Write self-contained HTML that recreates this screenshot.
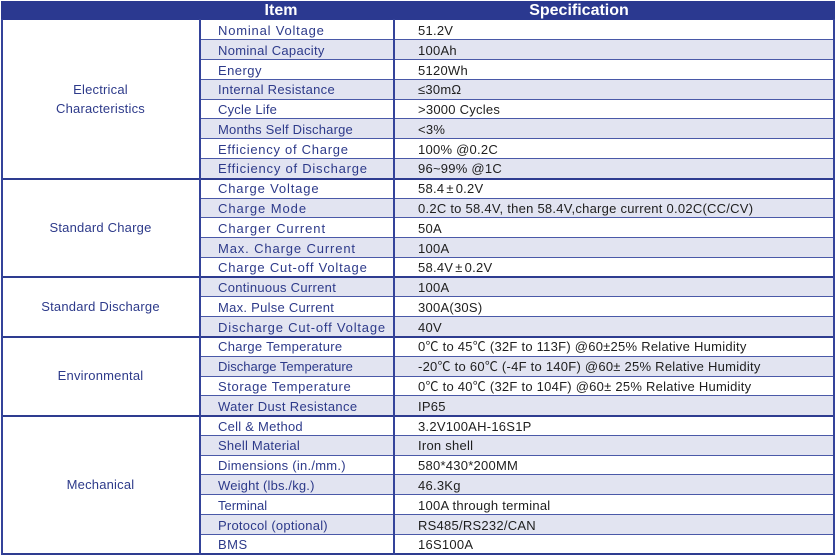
<!DOCTYPE html>
<html>
<head>
<meta charset="utf-8">
<style>
html,body{margin:0;padding:0;background:#fff;}
body{width:836px;height:555px;position:relative;overflow:hidden;font-family:"Liberation Sans","Noto Sans CJK SC",Arial,sans-serif;}
.hdr{position:absolute;left:1px;top:1px;width:834px;height:19px;background:#2b3990;}
.ht{position:absolute;top:0;width:200px;text-align:center;color:#fff;font-weight:bold;font-size:16px;line-height:19px;}
.row{position:absolute;left:200px;width:635px;height:19.78px;}
.sh{background:#e2e4f1;}
.m{position:absolute;left:18px;top:0;line-height:20px;font-size:13px;color:#2d3a8a;white-space:nowrap;padding-top:1px;}
.v{position:absolute;left:218px;top:0;line-height:20px;font-size:13px;color:#1e1e1e;white-space:nowrap;letter-spacing:0.25px;padding-top:1px;}
.hl{position:absolute;left:200px;width:635px;height:1px;background:#4a59a8;}
.sl{position:absolute;left:1px;width:834px;height:2px;background:#2e3c90;}
.vl{position:absolute;top:19px;width:2px;background:#34439a;}
.lab{position:absolute;left:1px;width:199px;display:flex;align-items:center;justify-content:center;text-align:center;font-size:13px;color:#2d3a8a;line-height:19px;letter-spacing:0.2px;}
.cj{font-family:"Noto Sans CJK SC",sans-serif;}
</style>
</head>
<body>
<div class="hdr">
  <div class="ht" style="left:180px;">Item</div>
  <div class="ht" style="left:478px;">Specification</div>
</div>

<!-- rows -->
<div class="row" style="top:20px"><span class="m" style="letter-spacing:0.8px">Nominal Voltage</span><span class="v">51.2V</span></div>
<div class="row sh" style="top:39.78px"><span class="m" style="letter-spacing:0.3px">Nominal Capacity</span><span class="v">100Ah</span></div>
<div class="row" style="top:59.56px"><span class="m" style="letter-spacing:0.45px">Energy</span><span class="v">5120Wh</span></div>
<div class="row sh" style="top:79.34px"><span class="m" style="letter-spacing:0.3px">Internal Resistance</span><span class="v">≤30mΩ</span></div>
<div class="row" style="top:99.12px"><span class="m" style="letter-spacing:0.2px">Cycle Life</span><span class="v">&gt;3000 Cycles</span></div>
<div class="row sh" style="top:118.9px"><span class="m" style="letter-spacing:0.2px">Months Self Discharge</span><span class="v">&lt;3%</span></div>
<div class="row" style="top:138.68px"><span class="m" style="letter-spacing:0.73px">Efficiency of Charge</span><span class="v">100% @0.2C</span></div>
<div class="row sh" style="top:158.46px"><span class="m" style="letter-spacing:0.77px">Efficiency of Discharge</span><span class="v">96~99% @1C</span></div>
<div class="row" style="top:178.24px"><span class="m" style="letter-spacing:0.84px">Charge Voltage</span><span class="v">58.4<span style="margin:0 2px">±</span>0.2V</span></div>
<div class="row sh" style="top:198.02px"><span class="m" style="letter-spacing:0.93px">Charge Mode</span><span class="v">0.2C to 58.4V, then 58.4V,charge current 0.02C(CC/CV)</span></div>
<div class="row" style="top:217.8px"><span class="m" style="letter-spacing:0.94px">Charger Current</span><span class="v">50A</span></div>
<div class="row sh" style="top:237.58px"><span class="m" style="letter-spacing:0.87px">Max. Charge Current</span><span class="v">100A</span></div>
<div class="row" style="top:257.36px"><span class="m" style="letter-spacing:0.8px">Charge Cut-off Voltage</span><span class="v">58.4V<span style="margin:0 2px">±</span>0.2V</span></div>
<div class="row sh" style="top:277.14px"><span class="m" style="letter-spacing:0.3px">Continuous Current</span><span class="v">100A</span></div>
<div class="row" style="top:296.92px"><span class="m" style="letter-spacing:0.27px">Max. Pulse Current</span><span class="v">300A(30S)</span></div>
<div class="row sh" style="top:316.7px"><span class="m" style="letter-spacing:0.8px">Discharge Cut-off Voltage</span><span class="v">40V</span></div>
<div class="row" style="top:336.48px"><span class="m" style="letter-spacing:0.3px">Charge Temperature</span><span class="v">0℃ to 45℃ (32F to 113F) @60±25% Relative Humidity</span></div>
<div class="row sh" style="top:356.26px"><span class="m" style="letter-spacing:0px">Discharge Temperature</span><span class="v">-20℃ to 60℃ (-4F to 140F) @60± 25% Relative Humidity</span></div>
<div class="row" style="top:376.04px"><span class="m" style="letter-spacing:0.6px">Storage Temperature</span><span class="v">0℃ to 40℃ (32F to 104F) @60± 25% Relative Humidity</span></div>
<div class="row sh" style="top:395.82px"><span class="m" style="letter-spacing:0.33px">Water Dust Resistance</span><span class="v">IP65</span></div>
<div class="row" style="top:415.6px"><span class="m" style="letter-spacing:0.25px">Cell &amp; Method</span><span class="v">3.2V100AH-16S1P</span></div>
<div class="row sh" style="top:435.38px"><span class="m" style="letter-spacing:0.23px">Shell Material</span><span class="v">Iron shell</span></div>
<div class="row" style="top:455.16px"><span class="m" style="letter-spacing:0.25px">Dimensions (in./mm.)</span><span class="v">580*430*200MM</span></div>
<div class="row sh" style="top:474.94px"><span class="m" style="letter-spacing:0.17px">Weight (lbs./kg.)</span><span class="v">46.3Kg</span></div>
<div class="row" style="top:494.72px"><span class="m" style="letter-spacing:0px">Terminal</span><span class="v">100A through terminal</span></div>
<div class="row sh" style="top:514.5px"><span class="m" style="letter-spacing:0.23px">Protocol (optional)</span><span class="v">RS485/RS232/CAN</span></div>
<div class="row" style="top:534.28px"><span class="m" style="letter-spacing:0.5px">BMS</span><span class="v">16S100A</span></div>

<!-- left labels -->
<div class="lab" style="top:20px;height:158px;">Electrical<br>Characteristics</div>
<div class="lab" style="top:178px;height:99px;">Standard Charge</div>
<div class="lab" style="top:277px;height:59px;">Standard Discharge</div>
<div class="lab" style="top:336px;height:79px;">Environmental</div>
<div class="lab" style="top:415px;height:139px;">Mechanical</div>

<!-- row lines -->
<div class="hl" style="top:39.3px"></div>
<div class="hl" style="top:59.1px"></div>
<div class="hl" style="top:78.9px"></div>
<div class="hl" style="top:98.6px"></div>
<div class="hl" style="top:118.4px"></div>
<div class="hl" style="top:138.2px"></div>
<div class="hl" style="top:158px"></div>
<div class="hl" style="top:197.5px"></div>
<div class="hl" style="top:217.3px"></div>
<div class="hl" style="top:237.1px"></div>
<div class="hl" style="top:256.9px"></div>
<div class="hl" style="top:296.4px"></div>
<div class="hl" style="top:316.2px"></div>
<div class="hl" style="top:355.8px"></div>
<div class="hl" style="top:375.5px"></div>
<div class="hl" style="top:395.3px"></div>
<div class="hl" style="top:434.9px"></div>
<div class="hl" style="top:454.7px"></div>
<div class="hl" style="top:474.4px"></div>
<div class="hl" style="top:494.2px"></div>
<div class="hl" style="top:514px"></div>
<div class="hl" style="top:533.8px"></div>

<!-- section lines -->
<div class="sl" style="top:177.5px"></div>
<div class="sl" style="top:276px"></div>
<div class="sl" style="top:335.5px"></div>
<div class="sl" style="top:414.8px"></div>
<div class="sl" style="top:553px"></div>

<!-- vertical lines -->
<div class="vl" style="left:1px;height:536px;"></div>
<div class="vl" style="left:199px;height:536px;"></div>
<div class="vl" style="left:393px;height:536px;"></div>
<div class="vl" style="left:833px;height:536px;"></div>
</body>
</html>
